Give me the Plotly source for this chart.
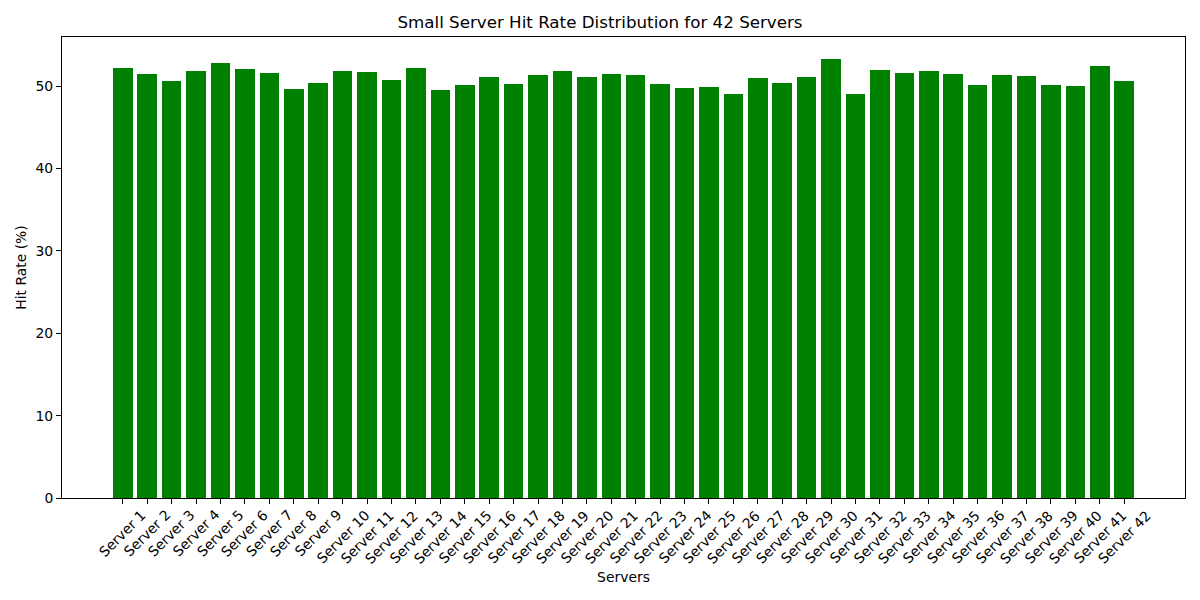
import plotly.graph_objects as go

servers = [f"Server {i}" for i in range(1, 43)]
hit_rates = [52.2, 51.5, 50.6, 51.8, 52.8, 52.1, 51.6, 49.6, 50.4, 51.8,
             51.7, 50.8, 52.2, 49.5, 50.1, 51.1, 50.2, 51.3, 51.8, 51.1,
             51.5, 51.3, 50.2, 49.8, 49.9, 49.0, 51.0, 50.4, 51.1, 53.3,
             49.1, 51.9, 51.6, 51.8, 51.5, 50.1, 51.3, 51.2, 50.1, 50.0,
             52.4, 50.6]

idx = list(range(len(servers)))
font = "DejaVu Sans"

fig = go.Figure(go.Bar(x=idx, y=hit_rates, width=0.8, marker_color="green",
                       marker_line_width=0))

annotations = []
for i, s in zip(idx, servers):
    annotations.append(dict(x=i, y=0, xref="x", yref="paper", text=s,
                            showarrow=False, textangle=-45, xanchor="center",
                            yanchor="top", yshift=-6,
                            font=dict(family=font, size=13.9, color="black")))

ymax = max(hit_rates) * 1.05
fig.update_layout(
    width=1200, height=600,
    paper_bgcolor="white", plot_bgcolor="white",
    margin=dict(l=62, r=15, t=37, b=102),
    title=dict(text="Small Server Hit Rate Distribution for 42 Servers",
               x=0.5, xanchor="center", y=1 - 22 / 600, yanchor="middle",
               font=dict(family=font, size=16.7, color="black")),
    font=dict(family=font, size=13.9, color="black"),
    showlegend=False,
    annotations=annotations,
    bargap=0,
)
fig.update_xaxes(range=[-2.49, len(servers) - 1 + 2.49], tickvals=idx,
                 ticktext=[""] * len(idx), ticks="outside", ticklen=5,
                 tickcolor="black", showline=True, linecolor="black",
                 linewidth=1, mirror=True, showgrid=False, zeroline=False,
                 title=dict(text="Servers", standoff=66,
                            font=dict(family=font, size=13.9)))
fig.update_yaxes(range=[0, ymax], tickvals=[0, 10, 20, 30, 40, 50],
                 ticks="outside", ticklen=5, tickcolor="black",
                 showline=True, linecolor="black", linewidth=1, mirror=True,
                 showgrid=False, zeroline=False,
                 tickfont=dict(family=font, size=13.9),
                 title=dict(text="Hit Rate (%)", standoff=5,
                            font=dict(family=font, size=13.9)))

fig.write_html("out.html", config={"displayModeBar": False},
               post_script="document.body.style.margin='0';"
                           "document.body.style.padding='0';")
